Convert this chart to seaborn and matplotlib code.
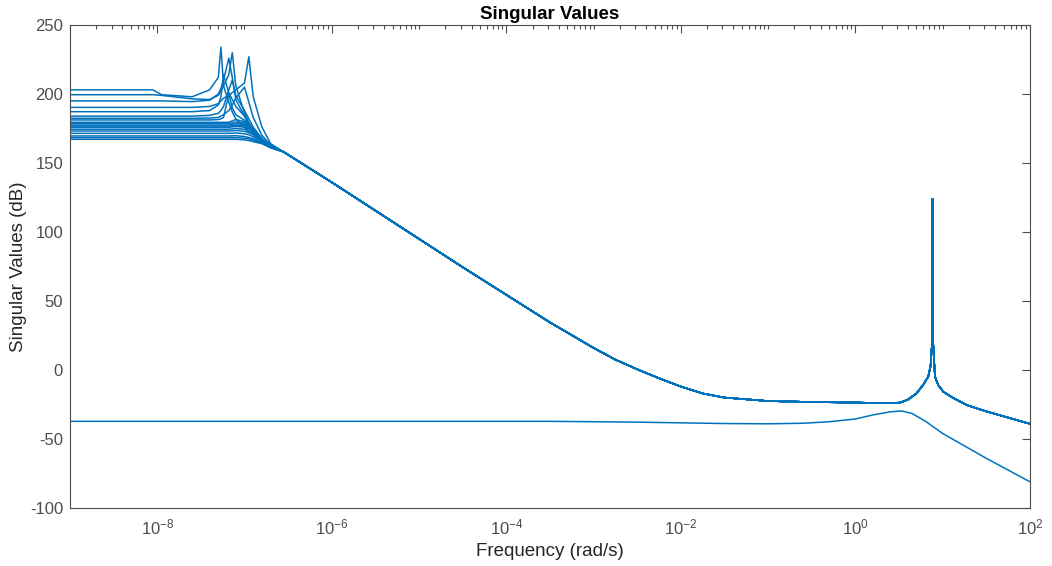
import matplotlib
matplotlib.use("Agg")
import matplotlib.pyplot as plt
import matplotlib.ticker as mticker
import numpy as np
import pandas as pd
import seaborn as sns

# low-frequency fan of curves, sampled on a shared log10(frequency) grid
fan_log_freq = [-9.0, -8.05, -7.95, -7.6, -7.4, -7.3, -7.27, -7.24, -7.18, -7.14, -7.1, -7.0, -6.95, -6.9, -6.8, -6.7, -6.55]
fan_db = [
    [203.0, 203.0, 199.5, 198.0, 203.0, 212.0, 234.0, 206.0, 194.0, 187.0, 182.0, 176.0, 173.0, 170.5, 166.0, 162.0, 158.0],
    [199.5, 199.5, 199.0, 196.5, 196.0, 199.0, 202.0, 206.0, 214.0, 230.0, 206.0, 186.0, 179.0, 173.0, 166.5, 162.0, 158.0],
    [195.0, 195.0, 195.0, 194.5, 195.5, 200.0, 204.0, 210.0, 226.0, 212.0, 196.0, 184.0, 178.0, 173.0, 166.5, 162.0, 158.0],
    [190.3, 190.3, 190.3, 190.3, 191.0, 193.0, 195.0, 197.0, 199.0, 201.0, 203.0, 208.0, 227.0, 198.0, 176.0, 164.0, 158.0],
    [187.2, 187.2, 187.2, 187.2, 188.0, 192.0, 198.0, 214.0, 201.0, 196.0, 191.0, 184.0, 179.0, 174.0, 167.0, 162.0, 158.0],
    [184.0, 184.0, 184.0, 184.0, 184.5, 186.0, 188.0, 191.0, 203.0, 210.0, 199.0, 188.0, 182.0, 176.0, 167.5, 162.0, 158.0],
    [182.4, 182.4, 182.4, 182.4, 182.6, 183.0, 184.0, 185.0, 188.0, 192.0, 197.0, 205.0, 194.0, 183.0, 170.0, 163.0, 158.0],
    [181.2, 181.2, 181.2, 181.2, 181.2, 181.5, 182.0, 183.0, 200.0, 190.0, 185.0, 181.0, 178.0, 175.0, 168.0, 162.0, 158.0],
    [179.5, 179.5, 179.5, 179.5, 179.5, 179.5, 179.5, 179.5, 179.5, 180.5, 181.5, 180.0, 177.5, 174.5, 167.5, 162.0, 158.0],
    [178.6, 178.6, 178.6, 178.6, 178.6, 178.6, 178.6, 178.6, 178.6, 179.0, 179.8, 179.0, 176.8, 174.0, 167.2, 162.0, 158.0],
    [177.5, 177.5, 177.5, 177.5, 177.5, 177.5, 177.5, 177.5, 177.5, 178.0, 178.5, 178.0, 176.0, 173.5, 167.0, 162.0, 158.0],
    [176.8, 176.8, 176.8, 176.8, 176.8, 176.8, 176.8, 176.8, 176.8, 177.0, 177.4, 177.0, 175.2, 173.0, 167.0, 162.0, 158.0],
    [175.9, 175.9, 175.9, 175.9, 175.9, 175.9, 175.9, 175.9, 175.9, 176.2, 176.5, 176.0, 174.5, 172.5, 167.0, 162.0, 158.0],
    [174.5, 174.5, 174.5, 174.5, 174.5, 174.5, 174.5, 174.5, 174.5, 174.8, 175.0, 174.5, 173.0, 171.5, 166.5, 162.0, 158.0],
    [173.2, 173.2, 173.2, 173.2, 173.2, 173.2, 173.2, 173.2, 173.2, 173.4, 173.6, 173.0, 172.0, 170.5, 166.0, 161.5, 158.0],
    [171.5, 171.5, 171.5, 171.5, 171.5, 171.5, 171.5, 171.5, 171.5, 171.6, 171.8, 171.2, 170.5, 169.0, 165.5, 161.5, 158.0],
    [169.6, 169.6, 169.6, 169.6, 169.6, 169.6, 169.6, 169.6, 169.6, 169.7, 169.8, 169.2, 168.5, 167.5, 165.0, 161.5, 158.0],
    [168.4, 168.4, 168.4, 168.4, 168.4, 168.4, 168.4, 168.4, 168.4, 168.4, 168.4, 168.0, 167.5, 166.5, 164.5, 161.0, 158.0],
    [167.2, 167.2, 167.2, 167.2, 167.2, 167.2, 167.2, 167.2, 167.2, 167.2, 167.2, 166.8, 166.3, 165.5, 164.0, 161.0, 158.0],
]

# shared high-frequency part of the upper singular value
tail_log_freq = [-6.55, -6.0, -5.5, -5.0, -4.5, -4.0, -3.5, -3.0, -2.75, -2.5, -2.25, -2.0, -1.75, -1.5, -1.0, -0.5,
                 0.0, 0.3, 0.51, 0.6, 0.7, 0.78, 0.835, 0.862, 0.879, 0.885, 0.891, 0.912, 0.95, 1.007, 1.1, 1.275,
                 1.5, 1.75, 2.0]
tail_db = [158.0, 136.0, 115.5, 95.0, 74.5, 54.5, 34.5, 16.0, 7.5, 0.5, -6.0, -12.0, -17.0, -20.0, -22.5, -23.2,
           -23.6, -24.0, -23.7, -21.5, -17.0, -10.5, -4.8, 3.0, 20.0, 124.0, 20.0, -4.8, -11.0, -15.7, -19.5, -25.4,
           -30.0, -34.5, -39.0]

# lower singular value
low_log_freq = [-9.0, -3.5, -2.5, -2.0, -1.5, -1.0, -0.6, -0.3, 0.0, 0.2, 0.4, 0.53, 0.65, 0.8, 1.0, 1.5, 2.0]
low_db = [-37.2, -37.2, -37.8, -38.3, -38.8, -39.0, -38.6, -37.5, -35.5, -32.6, -30.3, -29.7, -31.5, -37.0, -46.0,
          -64.0, -81.0]

rows = []
for i, curve in enumerate(fan_db):
    xs = fan_log_freq + tail_log_freq[1:]
    ys = curve + tail_db[1:]
    for x, y in zip(xs, ys):
        rows.append({"curve": i, "freq": 10.0 ** x, "db": y})
for x, y in zip(low_log_freq, low_db):
    rows.append({"curve": len(fan_db), "freq": 10.0 ** x, "db": y})
df = pd.DataFrame(rows)

sns.set_theme(style="white")
plt.rcParams["font.family"] = ["Liberation Sans", "DejaVu Sans"]
plt.rcParams["mathtext.default"] = "regular"
plt.rcParams["axes.unicode_minus"] = False

axis_color = "#4d4d4d"
fig = plt.figure(figsize=(10.52, 5.66), dpi=100)
ax = fig.add_axes([0.0665, 0.1025, 0.9125, 0.8533])
sns.lineplot(data=df, x="freq", y="db", units="curve", estimator=None, sort=False,
             color="#0072BD", linewidth=1.1, legend=False, ax=ax)

ax.set_xscale("log")
ax.set_xlim(1e-9, 1e2)
ax.set_ylim(-100, 250)
ax.set_xticks([10.0 ** k for k in range(-8, 3, 2)])
ax.xaxis.set_major_formatter(mticker.LogFormatterSciNotation())
ax.xaxis.set_minor_locator(mticker.LogLocator(base=10, subs=np.arange(1, 10), numticks=100))
ax.xaxis.set_minor_formatter(mticker.NullFormatter())
ax.set_yticks(range(-100, 251, 50))

ax.tick_params(which="both", direction="in", top=True, right=True, colors=axis_color, labelsize=12)
ax.tick_params(which="major", length=6, width=0.8)
ax.tick_params(which="minor", length=3, width=0.8)
ax.tick_params(axis="x", pad=7)
ax.tick_params(axis="y", pad=5)
for spine in ax.spines.values():
    spine.set_visible(True)
    spine.set_color(axis_color)
    spine.set_linewidth(0.8)

ax.set_xlabel("Frequency (rad/s)", fontsize=13.5, color="#262626", labelpad=4)
ax.set_ylabel("Singular Values (dB)", fontsize=13.5, color="#262626", labelpad=2)
ax.set_title("Singular Values", fontsize=13.5, fontweight="bold", color="black", pad=4)
ax.grid(False)

fig.savefig("out.png", dpi=100)
plt.close(fig)
